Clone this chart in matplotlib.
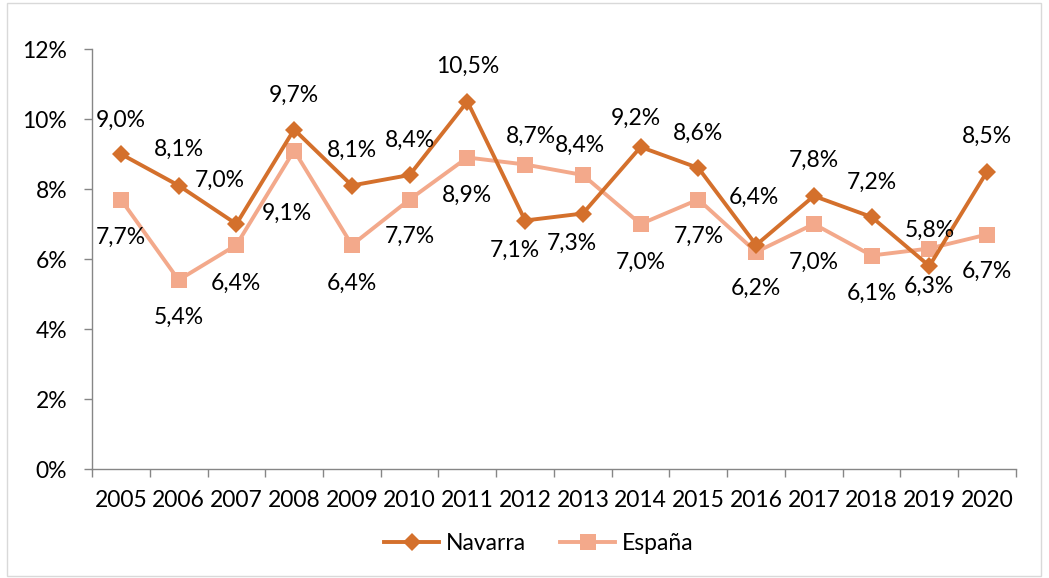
import matplotlib
matplotlib.use("Agg")
import matplotlib.pyplot as plt
from matplotlib.patches import Rectangle
import numpy as np

years = ["2005", "2006", "2007", "2008", "2009", "2010", "2011", "2012",
         "2013", "2014", "2015", "2016", "2017", "2018", "2019", "2020"]
navarra = [9.0, 8.1, 7.0, 9.7, 8.1, 8.4, 10.5, 7.1, 7.3, 9.2, 8.6, 6.4, 7.8, 7.2, 5.8, 8.5]
espana = [7.7, 5.4, 6.4, 9.1, 6.4, 7.7, 8.9, 8.7, 8.4, 7.0, 7.7, 6.2, 7.0, 6.1, 6.3, 6.7]
yticks = [0, 2, 4, 6, 8, 10, 12]

# label offsets in pixels (dx, dy up)
nav_off = [(0, 34), (0, 36), (-17, 44), (0, 34), (0, 35), (0, 35), (0, 35), (-10, -30),
           (-11, -30), (-5, 29), (0, 35), (-2, 48), (0, 36), (0, 35), (0, 36), (0, 35)]
esp_off = [(0, -38), (0, -37), (0, -38), (-7, -63), (0, -38), (0, -37), (0, -38), (6, 28),
           (-3, 30), (0, -38), (0, -37), (0, -36), (0, -38), (0, -38), (0, -38), (0, -37)]

C_NAV = "#D4702C"
C_ESP = "#F3A98B"
AXC = "#868686"
FS = 16.5

plt.rcParams['font.family'] = ['Lato', 'DejaVu Sans']

W, H = 1049, 578
fig = plt.figure(figsize=(W / 100, H / 100), dpi=100)
ax = fig.add_axes([92 / W, 1 - 469 / H, (1016 - 92) / W, (469 - 49) / H])

x = np.arange(len(years))
ax.plot(x, navarra, color=C_NAV, lw=2.8, marker='D', ms=9.5, mew=0, label='Navarra', zorder=3)
ax.plot(x, espana, color=C_ESP, lw=2.8, marker='s', ms=11, mew=0, label='España', zorder=2)

def fmt(v):
    return f"{v:.1f}".replace('.', ',') + '%'

for xi, v, (dx, dy) in zip(x, navarra, nav_off):
    ax.annotate(fmt(v), (xi, v), xytext=(dx, dy), textcoords='offset pixels',
                ha='center', va='center', fontsize=FS, color='black', zorder=5)
for xi, v, (dx, dy) in zip(x, espana, esp_off):
    ax.annotate(fmt(v), (xi, v), xytext=(dx, dy), textcoords='offset pixels',
                ha='center', va='center', fontsize=FS, color='black', zorder=5)

ax.set_xlim(-0.5, len(years) - 0.5)
ax.set_ylim(0, 12)
ax.set_yticks(yticks)
ax.set_yticklabels([f"{t}%" for t in yticks], fontsize=FS)
ax.set_xticks(x)
ax.set_xticklabels(years, fontsize=FS)
ax.set_xticks(np.arange(-0.5, len(years), 1), minor=True)
ax.tick_params(axis='x', which='major', length=0, pad=15)
ax.tick_params(axis='x', which='minor', length=5.8, width=1, color=AXC, direction='out')
ax.tick_params(axis='y', which='major', length=5.8, width=1, color=AXC, direction='out', pad=12)

for s in ['top', 'right']:
    ax.spines[s].set_visible(False)
for s in ['left', 'bottom']:
    ax.spines[s].set_color(AXC)
    ax.spines[s].set_linewidth(1)

fig.legend(loc='center', bbox_to_anchor=(539 / W, 1 - 544 / H), ncol=2, frameon=False,
           fontsize=FS, handlelength=2.4, handletextpad=0.3, columnspacing=1.5)

fig.patches.append(Rectangle((7 / W, 2 / H), (1041 - 7) / W, (575 - 2) / H,
                             transform=fig.transFigure, fill=False, edgecolor='#D9D9D9', lw=1))

fig.savefig("out.png", dpi=100)
